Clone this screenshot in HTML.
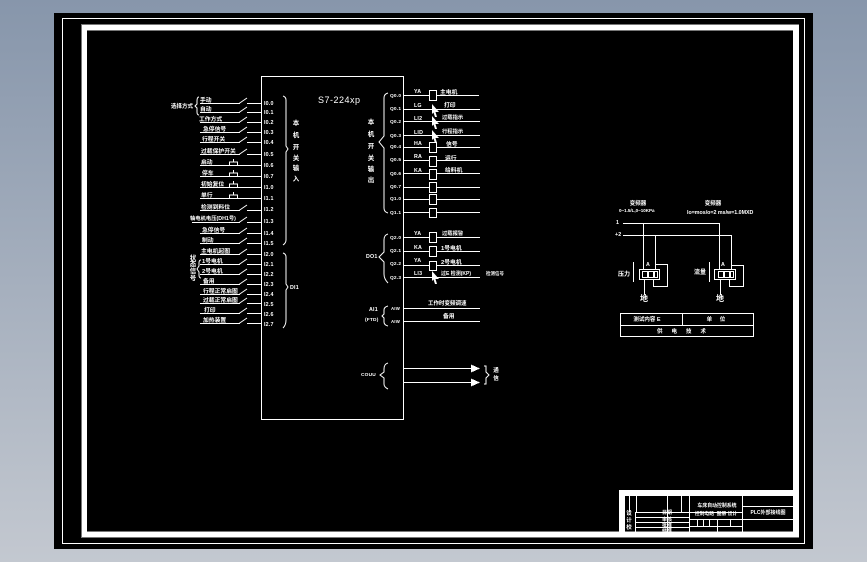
<!DOCTYPE html>
<html lang="zh"><head><meta charset="utf-8"><title>S7-224xp</title>
<style>
html,body{margin:0;padding:0;width:867px;height:562px;overflow:hidden;background:linear-gradient(#8796ab,#c3c8d0)}
svg{display:block}
text{font-family:"Liberation Sans","Noto Sans CJK SC",sans-serif;fill:#fff;font-size:7px}
.c{font-size:5.800px;font-weight:700}
.io{font-size:5.300px;font-weight:700;letter-spacing:.2px}
.v{font-size:6.500px;font-weight:700;text-anchor:middle}
.t{font-size:5.500px;font-weight:700;text-anchor:middle}
.l{stroke:#fff;stroke-width:1;fill:none}
</style></head><body>
<svg width="867" height="562" viewBox="0 0 867 562" xmlns="http://www.w3.org/2000/svg" shape-rendering="crispEdges">
<defs>
<path id="sw" class="l" d="M0 0.5H40M39 0.5L47 -5M47 0.5H61" shape-rendering="auto"/>
<path id="pb" class="l" d="M0 0.5H61M29.500 0V-3H37.500V0M33.500 -3V-6"/>
<path id="ar" fill="#fff" d="M0 -6L7 2L3.5 2L5 7L3 7L1.5 2.500L0 4Z" shape-rendering="auto"/>
</defs>
<rect x="54" y="13" width="759" height="536" fill="#000"/>
<rect x="62.500" y="18.500" width="742" height="525" fill="none" stroke="#fff"/>
<rect x="81" y="24" width="718" height="514" fill="#777"/>
<path fill="#fff" d="M82 25H799V537H82ZM87 31V532H793V31Z" fill-rule="evenodd"/>
<rect x="87" y="31" width="706" height="501" fill="#000"/>
<rect x="87" y="30" width="706" height="1" fill="#777"/>
<rect x="87" y="531" width="706" height="1" fill="#777"/>

<rect class="l" x="261.500" y="76.500" width="142" height="343"/>
<text x="318" y="103" style="font-size:9px;letter-spacing:.5px">S7-224xp</text>

<!-- left inputs -->
<g>
<use href="#sw" x="200" y="103"/><use href="#sw" x="200" y="112"/><use href="#sw" x="200" y="122"/>
<use href="#sw" x="200" y="132"/><use href="#sw" x="200" y="142"/><use href="#sw" x="200" y="154"/>
<use href="#pb" x="200" y="165"/><use href="#pb" x="200" y="176"/><use href="#pb" x="200" y="187"/><use href="#pb" x="200" y="198"/>
<use href="#sw" x="200" y="210"/><use href="#sw" x="200" y="222"/><use href="#sw" x="200" y="233"/><use href="#sw" x="200" y="243"/>
<use href="#sw" x="200" y="254"/><use href="#sw" x="200" y="264"/><use href="#sw" x="200" y="274"/><use href="#sw" x="200" y="284"/>
<use href="#sw" x="200" y="294"/><use href="#sw" x="200" y="303"/><use href="#sw" x="200" y="313"/><use href="#sw" x="200" y="323"/>
<path class="l" d="M192 222.500H240"/>
</g>
<g>
<text class="io" x="264" y="105">I0.0</text><text class="io" x="264" y="114">I0.1</text><text class="io" x="264" y="124">I0.2</text><text class="io" x="264" y="134">I0.3</text><text class="io" x="264" y="144">I0.4</text><text class="io" x="264" y="156">I0.5</text><text class="io" x="264" y="167">I0.6</text><text class="io" x="264" y="178">I0.7</text><text class="io" x="264" y="189">I1.0</text><text class="io" x="264" y="200">I1.1</text><text class="io" x="264" y="211">I1.2</text><text class="io" x="264" y="223">I1.3</text><text class="io" x="264" y="235">I1.4</text><text class="io" x="264" y="245">I1.5</text><text class="io" x="264" y="256">I2.0</text><text class="io" x="264" y="266">I2.1</text><text class="io" x="264" y="276">I2.2</text><text class="io" x="264" y="286">I2.3</text><text class="io" x="264" y="296">I2.4</text><text class="io" x="264" y="306">I2.5</text><text class="io" x="264" y="316">I2.6</text><text class="io" x="264" y="326">I2.7</text>
</g>
<g>
<text class="c" x="171" y="108" style="font-size:5.500px">选择方式</text>
<text class="c" x="200" y="102">手动</text><text class="c" x="200" y="111">自动</text><text class="c" x="199" y="121">工作方式</text>
<text class="c" x="203" y="131">急停信号</text><text class="c" x="202" y="141">行程开关</text><text class="c" x="201" y="153">过载保护开关</text>
<text class="c" x="201" y="164">启动</text><text class="c" x="202" y="175">停车</text><text class="c" x="201" y="186">初始复位</text><text class="c" x="201" y="197">单行</text>
<text class="c" x="201" y="209">检测到料位</text><text class="c" x="190" y="220" style="font-size:5.300px">轴电机电压(DH1号)</text><text class="c" x="202" y="232">急停信号</text><text class="c" x="202" y="242">制动</text>
<text class="c" x="201" y="253">主电机起图</text><text class="c" x="202" y="263">1号电机</text><text class="c" x="202" y="273">2号电机</text><text class="c" x="203" y="283">备用</text>
<text class="c" x="203" y="293">行程正常启图</text><text class="c" x="203" y="302">过载正常启图</text><text class="c" x="204" y="312">打印</text><text class="c" x="203" y="322">加热装置</text>
<text class="v" x="193" y="260">状</text><text class="v" x="193" y="266">态</text><text class="v" x="193" y="273">信</text><text class="v" x="193" y="280">号</text>
</g>
<path class="l" shape-rendering="auto" d="M199 97Q197 97 197 101V104L195 106L197 108V112Q197 115 199 115"/>
<path class="l" shape-rendering="auto" d="M201 260Q199 260 199 263V266L197 269L199 272V275Q199 278 201 278"/>
<path class="l" shape-rendering="auto" d="M283 96Q286 97 286 100V146L288 149L286 152V240Q286 243 283 245"/>
<path class="l" shape-rendering="auto" d="M283 253Q286 254 286 257V284L288 287L286 290V320Q286 325 283 328"/>
<text class="v" x="296" y="125">本</text><text class="v" x="296" y="137">机</text><text class="v" x="296" y="149">开</text><text class="v" x="296" y="160">关</text><text class="v" x="296" y="170">输</text><text class="v" x="296" y="181">入</text>
<text class="io" x="290" y="289">DI1</text>

<!-- right outputs -->
<path class="l" d="M404 95.500H479M404 109.500H480M404 121.500H480M404 135.500H480M404 147.500H480M404 160.500H480M404 173.500H480M404 187.500H480M404 199.500H480M404 212.500H480M404 237.500H480M404 251.500H480M404 265.500H480M404 277.500H480M404 308.500H480M404 321.500H480M404 368.500H473M404 382.500H473"/>
<g fill="#000" stroke="#fff">
<rect x="429.500" y="90.500" width="7" height="10"/><rect x="429.500" y="142.500" width="7" height="10"/><rect x="429.500" y="156.500" width="7" height="10"/><rect x="429.500" y="169.500" width="7" height="10"/><rect x="429.500" y="182.500" width="7" height="10"/><rect x="429.500" y="194.500" width="7" height="10"/><rect x="429.500" y="208.500" width="7" height="9"/><rect x="429.500" y="232.500" width="7" height="10"/><rect x="429.500" y="246.500" width="7" height="10"/><rect x="429.500" y="261.500" width="7" height="9"/>
</g>
<use href="#ar" x="432" y="110"/><use href="#ar" x="432" y="122"/><use href="#ar" x="432" y="136"/><use href="#ar" x="432" y="277"/>
<path fill="#fff" d="M471 364.500L480 368.500L471 372.500ZM471 378.500L480 382.500L471 386.500Z"/>
<g>
<text class="io" x="390" y="97" style="font-size:4.800px">Q0.0</text><text class="io" x="390" y="110" style="font-size:4.800px">Q0.1</text><text class="io" x="390" y="123" style="font-size:4.800px">Q0.2</text><text class="io" x="390" y="137" style="font-size:4.800px">Q0.3</text><text class="io" x="390" y="148" style="font-size:4.800px">Q0.4</text><text class="io" x="390" y="161" style="font-size:4.800px">Q0.5</text><text class="io" x="390" y="175" style="font-size:4.800px">Q0.6</text><text class="io" x="390" y="188" style="font-size:4.800px">Q0.7</text><text class="io" x="390" y="200" style="font-size:4.800px">Q1.0</text><text class="io" x="390" y="214" style="font-size:4.800px">Q1.1</text>
<text class="io" x="390" y="239" style="font-size:4.800px">Q2.0</text><text class="io" x="390" y="252" style="font-size:4.800px">Q2.1</text><text class="io" x="390" y="265" style="font-size:4.800px">Q2.2</text><text class="io" x="390" y="279" style="font-size:4.800px">Q2.3</text>
<text class="io" x="391" y="310" style="font-size:4.300px">AIW</text><text class="io" x="391" y="323" style="font-size:4.300px">AIW</text>
<text class="io" x="414" y="93">YA</text><text class="io" x="414" y="107">LG</text><text class="io" x="414" y="120">LI2</text><text class="io" x="414" y="134">LID</text><text class="io" x="414" y="145">HA</text><text class="io" x="414" y="158">RA</text><text class="io" x="414" y="172">KA</text>
<text class="io" x="414" y="235">YA</text><text class="io" x="414" y="249">KA</text><text class="io" x="414" y="262">YA</text><text class="io" x="414" y="275">LI3</text>
<text class="c" x="440" y="94">主电机</text><text class="c" x="444" y="107">打印</text><text class="c" x="442" y="119" style="font-size:5.300px">过载指示</text><text class="c" x="442" y="133" style="font-size:5.300px">行程指示</text><text class="c" x="446" y="146">信号</text><text class="c" x="445" y="160">运行</text><text class="c" x="445" y="172">给料机</text>
<text class="c" x="442" y="235" style="font-size:5.300px">过载报警</text><text class="c" x="441" y="250">1号电机</text><text class="c" x="441" y="264">2号电机</text><text class="c" x="441" y="275" style="font-size:5px">过E 检测(KP)</text><text class="c" x="486" y="275" style="font-size:4.500px">检测信号</text>
<text class="c" x="428" y="305" style="font-size:5.500px">工作时变频调速</text><text class="c" x="443" y="318">备用</text>
<text class="v" x="371" y="124">本</text><text class="v" x="371" y="136">机</text><text class="v" x="371" y="148">开</text><text class="v" x="371" y="160">关</text><text class="v" x="371" y="171">输</text><text class="v" x="371" y="182">出</text>
<text class="io" x="366" y="258">DO1</text><text class="io" x="369" y="311">AI1</text><text class="io" x="365" y="321" style="font-size:4.800px">(FTD)</text><text class="io" x="361" y="376" style="font-size:4.800px">COUU</text>
<text class="v" x="496" y="372" style="font-size:5.500px">通</text><text class="v" x="496" y="380" style="font-size:5.500px">信</text>
</g>
<g class="l" shape-rendering="auto">
<path d="M388 93Q384 94 384 98V136L379 142L384 148V208Q384 212 388 213"/>
<path d="M388 234Q384 235 384 240V252L379 257L384 262V274Q384 279 388 283"/>
<path d="M388 306Q384 307 384 310V314L382 316L384 318V322Q384 325 388 326"/>
<path d="M388 363Q384 364 384 369V372L380 375L384 378V384Q384 387 388 389"/>
<path d="M484 366H486V372L489 375L486 378V384H484"/>
</g>

<!-- right diagram -->
<g class="l">
<path d="M623 223.500H719.500M623 235.500H731.500"/>
<path d="M643.500 223V269M655.500 235V269M719.500 223V269M731.500 235V269"/>
<rect x="639.500" y="269.500" width="20" height="10"/><rect x="714.500" y="269.500" width="21" height="10"/>
<rect x="642.500" y="271.500" width="5" height="6"/><rect x="648.500" y="271.500" width="5" height="6"/><rect x="654.500" y="271.500" width="3" height="6"/>
<rect x="718.500" y="271.500" width="5" height="6"/><rect x="724.500" y="271.500" width="5" height="6"/><rect x="730.500" y="271.500" width="3" height="6"/>
<path d="M655 264.500H667.500V286.500H653.500V279M731 265.500H743.500V286.500H729.500V279"/>
<path d="M644.500 280V295M720.500 280V295M633.500 262V282M709.500 262V282"/>
<rect x="620.500" y="313.500" width="133" height="23"/><path d="M620 325.500H754M682.500 313V325"/>
</g>
<g>
<text class="t" x="638" y="205">变频器</text><text class="t" x="713" y="205">变频器</text>
<text x="619" y="212" style="font-size:4.500px;font-weight:700">0~1.5/L,0~10KPa</text><text x="687" y="214" style="font-size:5.300px;font-weight:700">lo=mos/o=2 ms/w=1.0MXD</text>
<text class="io" x="616" y="224">1</text><text class="io" x="615" y="236">+2</text>
<text class="c" x="618" y="276" style="font-size:6px">压力</text><text class="c" x="694" y="274" style="font-size:6px">流量</text>
<text class="io" x="646" y="266">A</text><text class="io" x="721" y="266">A</text>
<text x="640" y="301" style="font-size:8px;font-weight:700">地</text><text x="716" y="301" style="font-size:8px;font-weight:700">地</text>
<text class="t" x="647" y="321">测试内容 E</text><text class="t" x="716" y="321">单 &#160; &#160; 位</text>
<text class="t" x="686" y="333" style="letter-spacing:9px">供电技术</text>
</g>

<!-- title block -->
<rect x="619" y="490" width="174" height="6" fill="#fff"/>
<rect x="619" y="490" width="6" height="42" fill="#fff"/>
<g class="l">
<path d="M629.500 496V512M636.500 496V512M635.500 512V532M667.500 496V532M681.500 496V512M689.500 496V532M742.500 496V532M717.500 519V532M697.500 519V526M703.500 519V526M709.500 519V526M730.500 519V526"/>
<path d="M636 512.500H689M635 517.500H689M635 522.500H689M635 527.500H689M689 512.500H742M689 519.500H793M689 526.500H742M742 506.500H793"/>
</g>
<g style="font-weight:700">
<text class="t" x="717" y="507" style="font-size:4.900px">车床自动控制系统</text>
<text class="t" x="716" y="515" style="font-size:4.800px">控制电路 &#160;图册 设计</text>
<text class="t" x="768" y="514" style="font-size:5px">PLC外部接线图</text>
<text class="t" x="629" y="515" style="font-size:5.500px">设</text><text class="t" x="629" y="522" style="font-size:5.500px">计</text><text class="t" x="629" y="529" style="font-size:5.500px">校</text>
<text class="t" x="667" y="514" style="font-size:5px">日期</text><text class="t" x="667" y="521" style="font-size:5px">审核</text><text class="t" x="667" y="527" style="font-size:5px">批准</text><text class="t" x="667" y="532" style="font-size:5px">标准</text>
</g>
</svg>
</body></html>
